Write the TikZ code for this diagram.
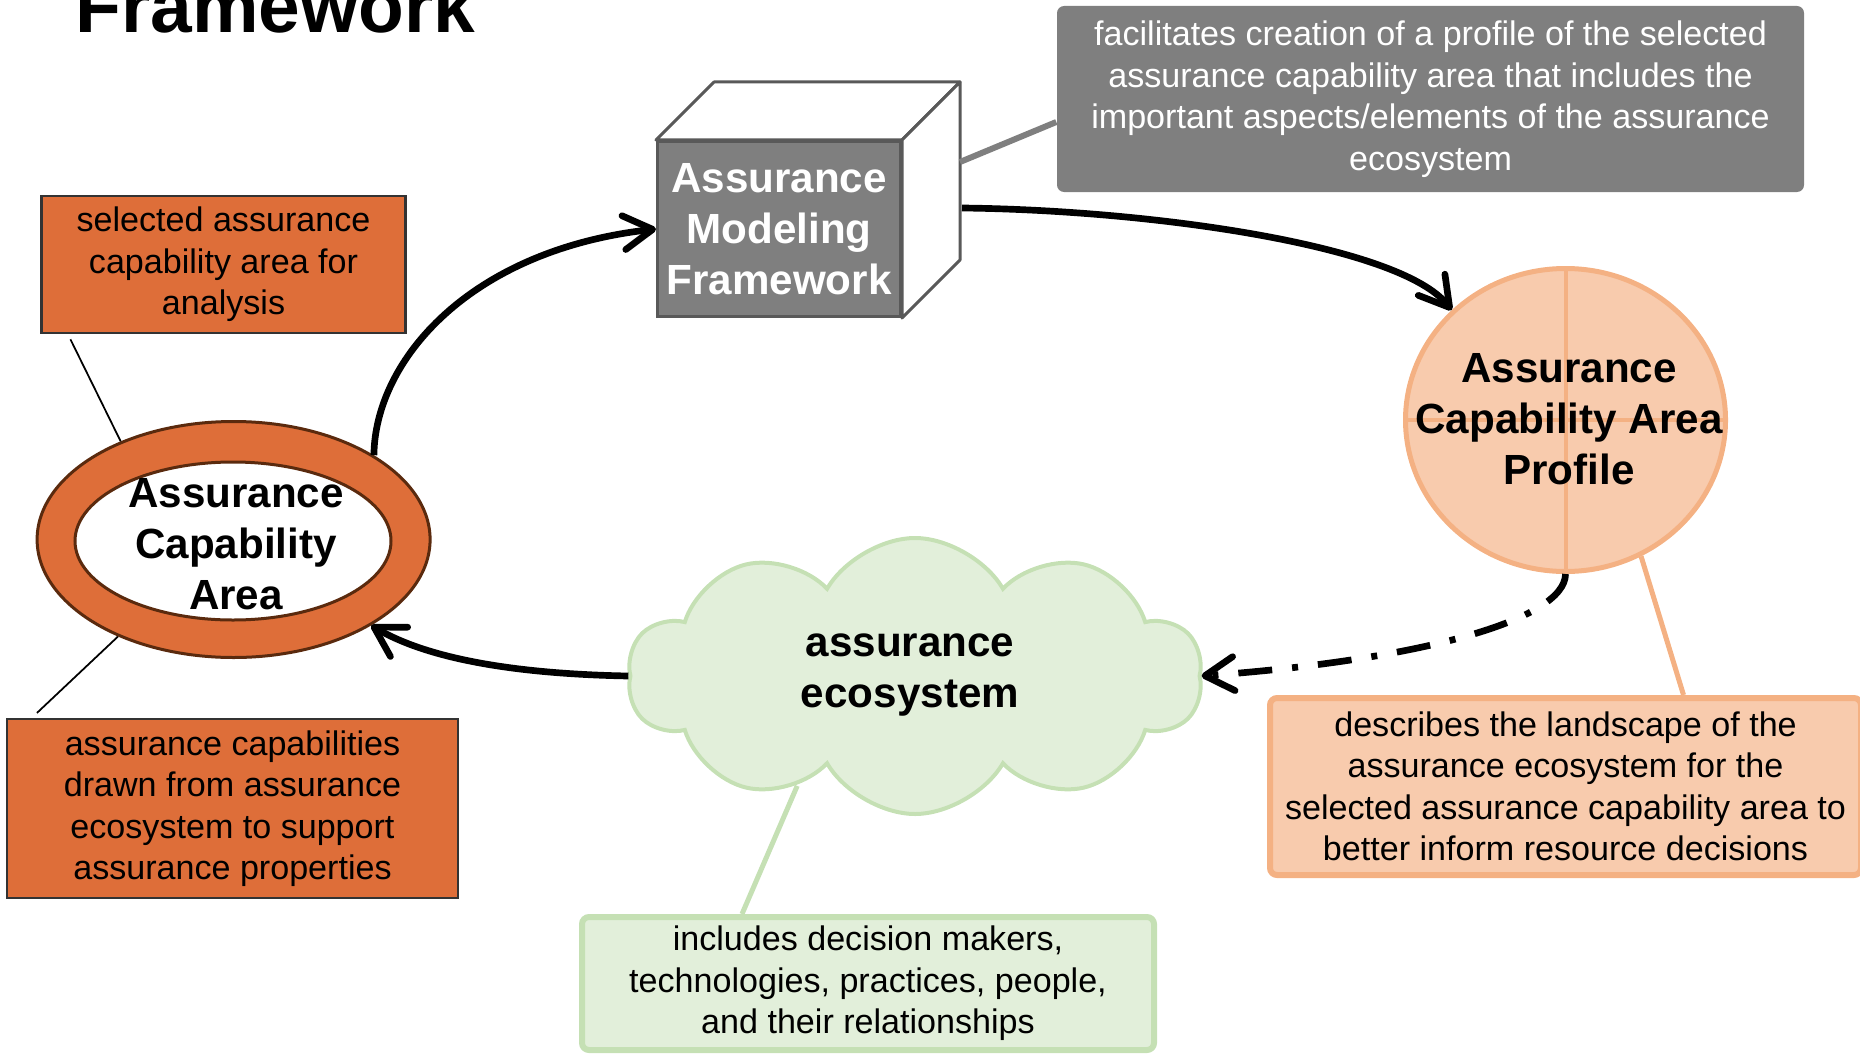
\documentclass[tikz,border=0pt]{standalone}
\usepackage{fontspec}
\setmainfont{Liberation Sans}
\usetikzlibrary{arrows.meta,calc,positioning,shapes.geometric,shapes.symbols}
\definecolor{aorange}{HTML}{DE6E39}
\definecolor{abrown}{HTML}{5A2A0E}
\definecolor{agray}{HTML}{7F7F7F}
\definecolor{adgray}{HTML}{595959}
\definecolor{apeach}{HTML}{F8CBAD}
\definecolor{apeachln}{HTML}{F4B183}
\definecolor{agreen}{HTML}{E2EFDA}
\definecolor{agreenln}{HTML}{C5E0B4}
\newcommand\anotefont{\fontsize{9.7}{11.8}\selectfont}
\newcommand\aheadfont{\fontsize{12}{14.5}\selectfont\bfseries}
\tikzset{
  >={Straight Barb[length=2.9mm,width=3.4mm,round]},
  aflow/.style={->, line width=1.9pt},
  anote/.style={align=center, inner sep=0pt, font=\anotefont},
  aorbox/.style={anote, fill=aorange, draw=black!80, line width=0.6pt},
  apbox/.style={anote, fill=apeach, draw=apeachln, line width=0.06cm, rounded corners=2pt},
  agbox/.style={anote, fill=agreen, draw=agreenln, line width=0.06cm, rounded corners=2pt},
  ahead/.style={align=center, inner sep=0pt, font=\aheadfont},
  athin/.style={black, line width=0.5pt},
}

\begin{document}
\begin{tikzpicture}[x=1cm,y=1cm]
  \useasboundingbox (0,0) rectangle (18.6,-10.54);

  % titulo (cortado)
  \node[anchor=base west, inner sep=0pt, font=\fontsize{21.3}{25}\selectfont\bfseries] (ttl) at (0.75,-0.33) {Framework};

  % capability area
  \node[ellipse, fill=aorange, draw=abrown, line width=0.03cm, minimum width=3.93cm, minimum height=2.36cm] (area) at (2.336,-5.395) {};
  \node[ellipse, fill=white, draw=abrown, line width=0.03cm, minimum width=3.16cm, minimum height=1.58cm] (areain) at (2.33,-5.41) {};
  \node[ahead] (areatxt) at (2.36,-5.44) {Assurance\\Capability\\Area};

  \node[aorbox, minimum width=3.64cm, minimum height=1.376cm] (sel) at (2.235,-2.645)
       {selected assurance\\capability area for\\analysis};
  \node[aorbox, minimum width=4.51cm, minimum height=1.79cm] (caps) at (2.325,-8.085)
       {assurance capabilities\\drawn from assurance\\ecosystem to support\\assurance properties};
  \draw[athin] ($(sel.south west)+(0.3,-0.05)$) -- (area.139);
  \draw[athin] (area.220) -- ($(caps.north west)+(0.31,0.05)$);

  % modeling framework (cubo)
  \node[fill=agray, draw=adgray, line width=0.03cm, minimum width=2.43cm, minimum height=1.75cm,
        ahead, text=white] (amf) at (7.79,-2.29) {Assurance\\Modeling\\Framework};
  \draw[fill=white, draw=adgray, line width=0.03cm, line join=round]
    (amf.north west) -- ++(0.58,0.58) -- ++(2.46,0) -- (amf.north east) -- cycle;
  \draw[fill=white, draw=adgray, line width=0.03cm, line join=round]
    (amf.north east) -- ++(0.58,0.58) -- ++(0,-1.78) -- (amf.south east) -- cycle;

  \node[anote, fill=agray, text=white, rounded corners=2pt, minimum width=7.47cm, minimum height=1.86cm] (note) at (14.305,-0.99)
       {facilitates creation of a profile of the selected\\assurance capability area that includes the\\important aspects/elements of the assurance\\ecosystem};
  \draw[agray, line width=0.06cm] ($(amf.north east)+(0.58,-0.22)$) -- ($(note.west)+(0,-0.23)$);

  % profile
  \node[ellipse, fill=apeach, draw=apeachln, line width=0.05cm, minimum width=3.2cm, minimum height=3.03cm,
        path picture={\draw[apeachln, line width=0.04cm]
          (path picture bounding box.north) -- (path picture bounding box.south)
          (path picture bounding box.west) -- (path picture bounding box.east);}] (prof) at (15.655,-4.20) {};
  \node[ahead] (proftxt) at (15.69,-4.19) {Assurance\\Capability Area\\Profile};

  \node[apbox, minimum width=5.91cm, minimum height=1.77cm] (desc) at (15.655,-7.865)
       {describes the landscape of the\\assurance ecosystem for the\\selected assurance capability area to\\better inform resource decisions};
  \draw[apeachln, line width=0.05cm] (prof.-61) -- ($(desc.north)+(1.18,0)$);

  % ecosystem
  \node[cloud, cloud puffs=10, cloud puff arc=120, aspect=2.1, fill=agreen, draw=agreenln, line width=0.04cm,
        minimum width=5.74cm, minimum height=2.76cm] (eco) at (9.15,-6.76) {};
  \node[ahead] (ecotxt) at (9.10,-6.75) {assurance\\ecosystem};

  \node[agbox, minimum width=5.72cm, minimum height=1.33cm] (inc) at (8.68,-9.835)
       {includes decision makers,\\technologies, practices, people,\\and their relationships};
  \draw[agreenln, line width=0.05cm] (eco.-137) -- ($(inc.north)+(-1.26,0)$);

  % ciclo
  \draw[aflow] (area.31) .. controls (3.75,-3.60) and (4.70,-2.50) .. (amf.west);
  \draw[aflow] ($(amf.north east)+(0.6,-0.68)$) .. controls (11.50,-2.10) and (14.00,-2.45) .. (prof.136);
  \draw[aflow, dash pattern=on 0.34cm off 0.2cm on 0.06cm off 0.2cm] (prof.south) .. controls (15.65,-6.20) and (14.20,-6.60) .. (eco.east);
  \draw[aflow] (eco.west) .. controls (5.20,-6.74) and (4.30,-6.60) .. (area.-32);

\end{tikzpicture}
\end{document}
